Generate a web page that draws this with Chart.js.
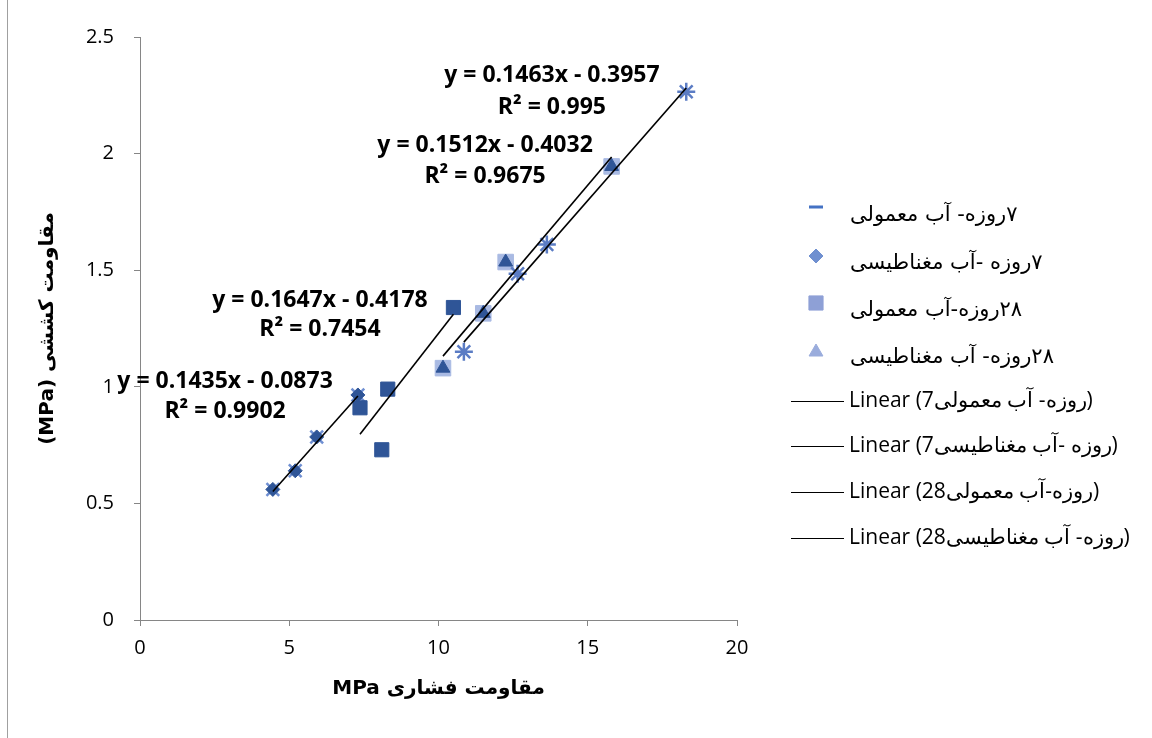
<!DOCTYPE html>
<html>
<head>
    <meta charset="utf-8">
    <title>مقاومت کششی - مقاومت فشاری</title>
    <script src="https://cdn.jsdelivr.net/npm/chart.js"></script>
    <style>
        html, body { margin: 0; padding: 0; background: #fff; }
        #wrap { width: 1152px; height: 738px; }
    </style>
</head>
<body>
    <div id="wrap"><canvas id="chart" width="1152" height="738"></canvas></div>

    <script>
        // Datos
        const seriesNames = ['۷روزه- آب معمولی', '۷روزه -آب مغناطیسی', '۲۸روزه-آب معمولی', '۲۸روزه- آب مغناطیسی'];
        const trendNames = ['Linear (7روزه- آب معمولی)', 'Linear (7روزه -آب مغناطیسی)', 'Linear (28روزه-آب معمولی)', 'Linear (28روزه- آب مغناطیسی)'];

        const x7Normal = [4.45, 5.2, 5.92, 7.3];
        const y7Normal = [0.56, 0.64, 0.785, 0.965];
        const x7Magnetic = [7.37, 8.1, 8.3, 10.5];
        const y7Magnetic = [0.91, 0.73, 0.99, 1.34];
        const x28Normal = [10.15, 11.5, 12.25, 15.8];
        const y28Normal = [1.08, 1.315, 1.535, 1.945];
        const x28Magnetic = [10.85, 12.65, 13.63, 18.3];
        const y28Magnetic = [1.15, 1.485, 1.61, 2.265];

        const slopes = [0.1435, 0.1647, 0.1512, 0.1463];
        const intercepts = [-0.0873, -0.4178, -0.4032, -0.3957];
        const rSquared = ['0.9902', '0.7454', '0.9675', '0.995'];

        const xTickValues = [0, 5, 10, 15, 20];
        const xTickLabels = ['0', '5', '10', '15', '20'];
        const yTickValues = [0, 0.5, 1, 1.5, 2, 2.5];
        const yTickLabels = ['0', '0.5', '1', '1.5', '2', '2.5'];

        const xTitle = 'MPa مقاومت فشاری';
        const yTitle = '(MPa) مقاومت کششی';

        const allX = [x7Normal, x7Magnetic, x28Normal, x28Magnetic];
        const allY = [y7Normal, y7Magnetic, y28Normal, y28Magnetic];

        const pts = (xs, ys) => xs.map((x, i) => ({ x: x, y: ys[i] }));

        const dark = '#2F5597';
        const NUM_FONT = '"Open Sans", "Liberation Sans", sans-serif';
        const AR_FONT = '"DejaVu Sans", "Liberation Serif", serif';

        // estilos de marcadores (uno o dos por serie)
        const markerStyles = [
            [{ pointStyle: 'crossRot', radius: 9, color: '#6F8FD2', border: 2.5, order: 3 },
             { pointStyle: 'rectRot', radius: 7, color: dark, border: 1, order: 2 }],
            [{ pointStyle: 'rect', radius: 10, color: dark, border: 1, order: 2 }],
            [{ pointStyle: 'rect', radius: 11, color: '#A9BAE3', border: 1, order: 3 },
             { pointStyle: 'triangle', radius: 8, color: dark, border: 1, order: 2 }],
            [{ pointStyle: 'star', radius: 9, color: '#5B7CC4', border: 2.5, order: 2 }]
        ];

        const datasets = [];
        markerStyles.forEach((styles, s) => {
            styles.forEach(st => {
                datasets.push({
                    type: 'scatter',
                    label: seriesNames[s],
                    data: pts(allX[s], allY[s]),
                    pointStyle: st.pointStyle,
                    pointRadius: st.radius,
                    pointHoverRadius: st.radius,
                    backgroundColor: st.color,
                    borderColor: st.color,
                    pointBorderWidth: st.border,
                    order: st.order
                });
            });
        });

        // lineas de tendencia
        slopes.forEach((m, s) => {
            const x0 = Math.min(...allX[s]);
            const x1 = Math.max(...allX[s]);
            datasets.push({
                type: 'line',
                label: trendNames[s],
                data: [{ x: x0, y: m * x0 + intercepts[s] }, { x: x1, y: m * x1 + intercepts[s] }],
                borderColor: '#000',
                borderWidth: 1.6,
                pointRadius: 0,
                fill: false,
                order: 0
            });
        });

        // ecuaciones y leyenda dibujadas a mano
        const eqAnchors = [
            { x: 2.85, y1: 1.025, y2: 0.896 },
            { x: 6.03, y1: 1.372, y2: 1.244 },
            { x: 11.56, y1: 2.037, y2: 1.904 },
            { x: 13.8, y1: 2.333, y2: 2.2 }
        ];

        const extras = {
            id: 'extras',
            afterDraw(chart) {
                const ctx = chart.ctx;
                const xs = chart.scales.x, ys = chart.scales.y;
                ctx.save();

                // borde izquierdo del area
                ctx.strokeStyle = '#A0A0A0';
                ctx.lineWidth = 1;
                ctx.beginPath();
                ctx.moveTo(7.5, 0);
                ctx.lineTo(7.5, 738);
                ctx.stroke();

                // ecuaciones
                ctx.fillStyle = '#000';
                ctx.font = 'bold 23px ' + NUM_FONT;
                ctx.textAlign = 'center';
                ctx.textBaseline = 'middle';
                eqAnchors.forEach((a, s) => {
                    const px = xs.getPixelForValue(a.x);
                    const sign = intercepts[s] < 0 ? ' - ' : ' + ';
                    ctx.fillText('y = ' + slopes[s] + 'x' + sign + Math.abs(intercepts[s]).toFixed(4), px, ys.getPixelForValue(a.y1));
                    ctx.fillText('R² = ' + rSquared[s], px, ys.getPixelForValue(a.y2));
                });

                // leyenda: marcadores
                const markerRows = [207, 256, 303, 352];
                const textRows = [216, 264, 311, 358];
                const mx = 816;
                ctx.fillStyle = '#4472C4';
                ctx.fillRect(mx - 7, markerRows[0] - 1.5, 14, 3);
                const legendMarks = [
                    null,
                    { pointStyle: 'rectRot', radius: 7, color: '#7090D0' },
                    { pointStyle: 'rect', radius: 10, color: '#8EA0D6' },
                    { pointStyle: 'triangle', radius: 8, color: '#9AACDC' }
                ];
                legendMarks.forEach((m, i) => {
                    if (!m) return;
                    ctx.fillStyle = m.color;
                    ctx.strokeStyle = m.color;
                    ctx.lineWidth = 1;
                    Chart.helpers.drawPoint(ctx, { pointStyle: m.pointStyle, radius: m.radius, rotation: 0, borderWidth: 1 }, mx, markerRows[i]);
                });
                ctx.fillStyle = '#000';
                ctx.font = '21px ' + AR_FONT;
                ctx.direction = 'rtl';
                ctx.textAlign = 'left';
                seriesNames.forEach((n, i) => ctx.fillText(n, 850, textRows[i]));

                // leyenda: tendencias
                ctx.direction = 'ltr';
                const trendRows = [401, 446, 492, 538];
                ctx.font = '21px ' + NUM_FONT;
                trendNames.forEach((n, i) => {
                    ctx.strokeStyle = '#000';
                    ctx.lineWidth = 1;
                    ctx.beginPath();
                    ctx.moveTo(791, trendRows[i] + 0.5);
                    ctx.lineTo(844, trendRows[i] + 0.5);
                    ctx.stroke();
                    ctx.fillText(n, 849, trendRows[i]);
                });
                ctx.restore();
            }
        };

        const axisColor = '#868686';

        new Chart(document.getElementById('chart'), {
            data: { datasets: datasets },
            options: {
                responsive: false,
                animation: false,
                devicePixelRatio: 1,
                layout: { padding: { left: 32, top: 37, right: 415, bottom: 33 } },
                plugins: { legend: { display: false }, tooltip: { enabled: false } },
                scales: {
                    x: {
                        type: 'linear',
                        min: xTickValues[0],
                        max: xTickValues[xTickValues.length - 1],
                        afterBuildTicks: s => { s.ticks = xTickValues.map(v => ({ value: v })); },
                        afterFit: s => { s.height = 85; },
                        grid: { drawOnChartArea: false, tickLength: 6, color: axisColor },
                        border: { color: axisColor },
                        ticks: {
                            color: '#000', padding: 10, font: { family: NUM_FONT, size: 20 },
                            callback: v => xTickLabels[xTickValues.indexOf(v)]
                        },
                        title: { display: true, text: xTitle, color: '#000', font: { family: AR_FONT, size: 20, weight: 'bold' } }
                    },
                    y: {
                        type: 'linear',
                        min: yTickValues[0],
                        max: yTickValues[yTickValues.length - 1],
                        afterBuildTicks: s => { s.ticks = yTickValues.map(v => ({ value: v })); },
                        afterFit: s => { s.width = 108; },
                        grid: { drawOnChartArea: false, tickLength: 6, color: axisColor },
                        border: { color: axisColor },
                        ticks: {
                            color: '#000', padding: 20, font: { family: NUM_FONT, size: 20 },
                            callback: v => yTickLabels[yTickValues.indexOf(v)]
                        },
                        title: { display: true, text: yTitle, color: '#000', font: { family: AR_FONT, size: 20, weight: 'bold' } }
                    }
                }
            },
            plugins: [extras]
        });
    </script>
</body>
</html>
